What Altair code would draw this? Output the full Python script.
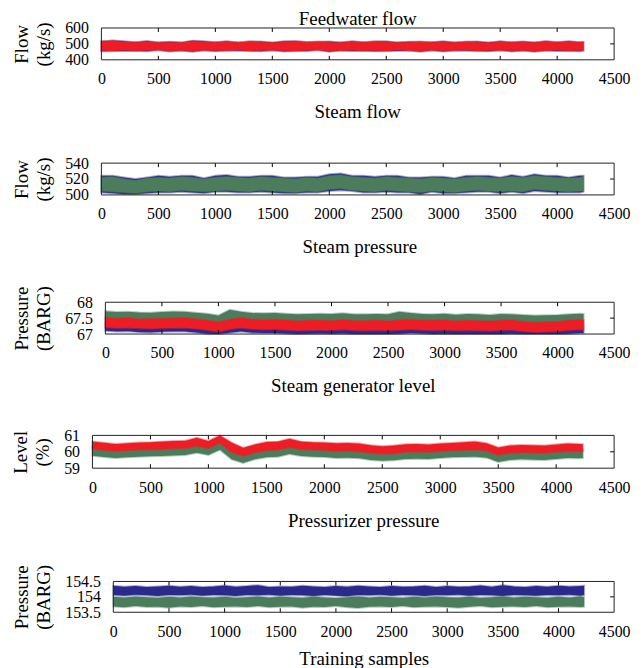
import altair as alt
import pandas as pd

FONT = "Liberation Serif"
BLUE = "#2a2a8c"
GREEN = "#4b7d5c"
RED = "#ee1d25"

# sample positions of the envelope readings (every 100 samples, last sample 4230)
samples = list(range(0, 4201, 100)) + [4230]
x_tick_values = [0, 500, 1000, 1500, 2000, 2500, 3000, 3500, 4000, 4500]
inner_ticks = [500, 1000, 1500, 2000, 2500, 3000, 3500, 4000]

# ---- Feedwater flow (kg/s) ----
fw_blue_hi = [515,522,516,510,518,509,514,508,520,516,510,517,509,515,515,508,516,516,512,514,515,509,517,510,515,516,508,514,514,510,516,509,513,515,508,516,510,515,509,517,511,516,510,512]
fw_blue_lo = [454,455,455,457,453,461,452,458,450,460,453,459,457,456,453,460,452,455,455,461,451,458,455,457,454,455,456,458,451,460,452,459,457,456,453,460,452,459,451,458,455,457,454,458]
fw_red_hi = [515,520,512,510,514,509,511,508,518,512,510,513,509,515,511,508,512,516,510,514,511,509,513,510,515,512,508,511,514,510,512,509,513,511,508,514,510,512,509,515,511,513,510,512]
fw_red_lo = [458,455,460,457,459,461,456,458,455,460,457,459,462,456,458,460,457,455,459,461,456,458,460,457,459,455,461,458,456,460,457,459,462,456,458,460,457,459,456,458,460,457,459,458]

# ---- Steam flow (kg/s) ----
sf_blue_hi = [524,524,522,520,522,524,523,524,524,521,524,525,523,523,524,524,522,522,523,523,526,527,524,524,523,524,524,522,522,523,523,521,524,524,524,522,525,523,526,524,524,522,524,524]
sf_blue_lo = [503,502,501,501,502,503,503,504,503,502,504,504,503,503,504,503,502,502,503,503,505,506,505,503,503,504,503,503,501,504,502,502,503,504,504,502,504,502,505,504,503,503,503,504]
sf_green_hi = [522,523,520,518,521,522,521,523,522,520,522,523,522,521,523,522,521,520,522,521,524,525,523,522,521,523,522,521,520,522,521,520,522,523,522,521,523,522,524,523,522,521,522,523]
sf_green_lo = [505,504,503,502,504,505,504,506,505,504,505,506,505,504,506,505,504,503,505,504,507,508,506,505,504,506,505,504,503,505,504,503,505,506,505,504,505,504,507,506,505,504,505,505]

# ---- Steam pressure (BARG) ----
sp_blue_hi = [67.32,67.30,67.31,67.29,67.28,67.29,67.30,67.31,67.28,67.24,67.18,67.26,67.31,67.27,67.25,67.26,67.24,67.22,67.23,67.24,67.23,67.25,67.23,67.22,67.23,67.22,67.24,67.26,67.24,67.23,67.24,67.22,67.23,67.22,67.21,67.23,67.24,67.20,67.17,67.18,67.20,67.23,67.25,67.24]
sp_blue_lo = [67.10,67.08,67.09,67.06,67.05,67.07,67.08,67.08,67.05,67.01,66.97,67.04,67.08,67.04,67.03,67.03,67.02,67.00,67.01,67.02,67.01,67.02,67.00,66.99,67.00,66.99,67.01,67.03,67.02,67.00,67.01,66.99,67.00,66.99,66.99,67.00,67.01,66.98,66.97,66.97,66.99,67.01,67.03,67.03]
sp_green_hi = [67.72,67.69,67.70,67.68,67.67,67.69,67.71,67.70,67.67,67.64,67.58,67.76,67.70,67.66,67.65,67.66,67.64,67.62,67.63,67.64,67.63,67.65,67.62,67.62,67.63,67.62,67.70,67.66,67.63,67.62,67.64,67.61,67.63,67.62,67.60,67.63,67.62,67.60,67.58,67.59,67.60,67.62,67.64,67.63]
sp_green_lo = [67.36,67.34,67.35,67.33,67.32,67.33,67.34,67.35,67.32,67.28,67.22,67.30,67.35,67.31,67.29,67.30,67.28,67.26,67.27,67.28,67.27,67.29,67.27,67.26,67.27,67.26,67.28,67.30,67.28,67.27,67.28,67.26,67.27,67.26,67.25,67.27,67.28,67.24,67.21,67.22,67.24,67.27,67.29,67.28]
sp_red_hi = [67.52,67.49,67.51,67.47,67.48,67.49,67.50,67.51,67.47,67.43,67.38,67.46,67.51,67.46,67.45,67.45,67.44,67.41,67.43,67.43,67.42,67.45,67.42,67.42,67.43,67.41,67.44,67.46,67.43,67.43,67.44,67.41,67.43,67.42,67.40,67.43,67.44,67.39,67.36,67.38,67.39,67.43,67.45,67.44]
sp_red_lo = [67.21,67.19,67.20,67.18,67.17,67.18,67.19,67.20,67.17,67.13,67.07,67.15,67.20,67.16,67.14,67.15,67.13,67.11,67.12,67.13,67.12,67.14,67.12,67.11,67.12,67.11,67.13,67.15,67.13,67.12,67.13,67.11,67.12,67.11,67.10,67.12,67.13,67.09,67.06,67.07,67.09,67.12,67.14,67.13]

# ---- Steam generator level (%) ----
lv_green_hi = [60.32,60.25,60.18,60.22,60.27,60.28,60.32,60.36,60.38,60.56,60.36,60.75,60.26,59.94,60.14,60.30,60.32,60.50,60.32,60.28,60.26,60.22,60.24,60.20,60.10,60.04,60.08,60.16,60.18,60.14,60.20,60.24,60.28,60.32,60.22,59.96,60.08,60.12,60.10,60.08,60.14,60.20,60.18,60.16]
lv_green_lo = [59.76,59.68,59.62,59.66,59.70,59.72,59.74,59.78,59.80,59.94,59.80,60.12,59.54,59.32,59.54,59.66,59.70,59.86,59.74,59.70,59.68,59.62,59.64,59.60,59.50,59.46,59.48,59.56,59.58,59.56,59.62,59.66,59.68,59.70,59.64,59.38,59.50,59.54,59.52,59.50,59.56,59.62,59.60,59.62]
lv_red_hi = [60.62,60.55,60.48,60.52,60.57,60.58,60.62,60.66,60.68,60.86,60.66,61.05,60.56,60.24,60.44,60.60,60.62,60.80,60.62,60.58,60.56,60.52,60.54,60.50,60.40,60.34,60.38,60.46,60.48,60.44,60.50,60.54,60.58,60.62,60.52,60.26,60.38,60.42,60.40,60.38,60.44,60.50,60.48,60.46]
lv_red_lo = [60.18,60.10,60.04,60.08,60.13,60.14,60.16,60.20,60.21,60.36,60.22,60.55,59.96,59.74,59.96,60.08,60.12,60.28,60.16,60.12,60.10,60.04,60.06,60.02,59.92,59.88,59.90,59.98,60.00,59.98,60.04,60.08,60.10,60.12,60.06,59.80,59.92,59.96,59.94,59.92,59.98,60.04,60.02,60.04]

# ---- Pressurizer pressure (BARG) ----
pp_blue_hi = [154.36,154.33,154.35,154.32,154.34,154.36,154.33,154.35,154.32,154.34,154.37,154.33,154.35,154.38,154.32,154.34,154.33,154.36,154.34,154.32,154.35,154.33,154.36,154.34,154.32,154.35,154.33,154.34,154.36,154.32,154.35,154.33,154.34,154.37,154.33,154.38,154.34,154.32,154.35,154.33,154.36,154.34,154.35,154.36]
pp_blue_lo = [154.06,154.04,154.07,154.05,154.03,154.06,154.05,154.07,154.04,154.06,154.05,154.03,154.06,154.05,154.07,154.04,154.06,154.05,154.03,154.06,154.04,154.02,154.06,154.05,154.07,154.04,154.06,154.05,154.03,154.06,154.05,154.07,154.04,154.06,154.05,154.03,154.06,154.05,154.04,154.06,154.05,154.07,154.04,154.06]
pp_green_hi = [154.00,153.98,154.01,153.99,153.97,154.00,153.98,154.01,153.99,153.98,154.00,153.97,153.99,154.01,153.98,154.00,153.99,153.97,154.00,153.98,153.96,153.99,154.01,153.98,154.00,153.99,153.97,154.00,153.98,154.01,153.99,153.98,154.00,153.97,153.99,154.01,153.98,154.00,153.99,153.97,154.00,153.98,154.01,153.99]
pp_green_lo = [153.69,153.66,153.70,153.67,153.68,153.65,153.69,153.67,153.70,153.66,153.68,153.69,153.67,153.70,153.66,153.68,153.69,153.65,153.68,153.67,153.70,153.66,153.64,153.68,153.69,153.67,153.70,153.66,153.68,153.69,153.67,153.65,153.68,153.70,153.66,153.68,153.69,153.67,153.70,153.66,153.68,153.69,153.67,153.68]

W = 504  # common right edge of every panel (relative to shared origin)


def panel(title, title_offset, ytitle, ydom, yvals, series, left, height, xtitle=None):
    # left: pixel position of this panel's left frame edge relative to the shared origin
    xs = alt.Scale(domain=[0, 4500], range=[left, W], nice=False, zero=False)
    ys = alt.Scale(domain=ydom, nice=False, zero=False, clamp=True)
    xaxis = alt.Axis(values=x_tick_values, labelExpr="'' + datum.value", labelFlush=False,
                     labelOverlap=False, grid=False, domain=False, ticks=False, tickSize=0,
                     labelPadding=11, labelFont=FONT, labelFontSize=16, labelColor="black",
                     title=xtitle, titleFont=FONT, titleFontSize=19, titleFontWeight="normal",
                     titleColor="black", titlePadding=11)
    yaxis = alt.Axis(values=yvals, labelExpr="'' + datum.value", labelFlush=False,
                     labelOverlap=False, grid=False, domain=False, ticks=False, tickSize=0,
                     offset=-left, labelPadding=13, labelFont=FONT, labelFontSize=16,
                     labelColor="black", title=ytitle, titleFont=FONT, titleFontSize=19,
                     titleFontWeight="normal", titleColor="black", titlePadding=11,
                     titleLineHeight=22)
    layers = []
    for lo, hi, color in series:
        df = pd.DataFrame({"x": samples, "lo": lo, "hi": hi})
        layers.append(
            alt.Chart(df).mark_area(color=color, opacity=1, stroke=color, strokeWidth=2,
                                    strokeOpacity=0.4).encode(
                x=alt.X("x:Q", scale=xs, axis=xaxis),
                y=alt.Y("lo:Q", scale=ys, axis=yaxis),
                y2="hi:Q",
            )
        )
    tick_df = pd.DataFrame({"x": inner_ticks})
    top = alt.Chart(tick_df).mark_rule(color="black", strokeWidth=1).encode(
        x=alt.X("x:Q", scale=xs, axis=xaxis), y=alt.value(0), y2=alt.value(4))
    bottom = alt.Chart(tick_df).mark_rule(color="black", strokeWidth=1).encode(
        x=alt.X("x:Q", scale=xs, axis=xaxis), y=alt.value(height - 4), y2=alt.value(height))
    mid_df = pd.DataFrame({"lo": [yvals[1]]})
    right = alt.Chart(mid_df).mark_rule(color="black", strokeWidth=1).encode(
        y=alt.Y("lo:Q", scale=ys, axis=yaxis), x=alt.value(W - 4), x2=alt.value(W))
    frame = alt.Chart(pd.DataFrame({"k": [0]})).mark_rect(
        fillOpacity=0, stroke="#222222", strokeWidth=1).encode(
        x=alt.value(left), x2=alt.value(W), y=alt.value(0), y2=alt.value(height))
    return alt.layer(*layers, top, bottom, right, frame).properties(
        width=W, height=height,
        title=alt.TitleParams(title, font=FONT, fontSize=19, fontWeight="normal", color="black",
                              offset=title_offset, frame="group", baseline="alphabetic",
                              dx=left / 2),
    )


p1 = panel("Feedwater flow", -24, ["Flow", "(kg/s)"], [400, 600], [400, 500, 600],
           [(fw_blue_lo, fw_blue_hi, BLUE), (fw_red_lo, fw_red_hi, RED)], -12, 32)
p2 = panel("Steam flow", 18.5, ["Flow", "(kg/s)"], [500, 540], [500, 520, 540],
           [(sf_blue_lo, sf_blue_hi, BLUE), (sf_green_lo, sf_green_hi, GREEN)], -12, 32)
p3 = panel("Steam pressure", 14, ["Pressure", "(BARG)"], [67, 68], [67, 67.5, 68],
           [(sp_blue_lo, sp_blue_hi, BLUE), (sp_green_lo, sp_green_hi, GREEN),
            (sp_red_lo, sp_red_hi, RED)], -8, 32)
p4 = panel("Steam generator level", 16.5, ["Level", "(%)"], [59, 61], [59, 60, 61],
           [(lv_green_lo, lv_green_hi, GREEN), (lv_red_lo, lv_red_hi, RED)], -21, 33)
p5 = panel("Pressurizer pressure", 19, ["Pressure", "(BARG)"], [153.5, 154.5], [153.5, 154, 154.5],
           [(pp_blue_lo, pp_blue_hi, BLUE), (pp_green_lo, pp_green_hi, GREEN)], 0, 31,
           xtitle="Training samples")

chart = alt.vconcat(p1, p2, p3, p4, p5, spacing=16).properties(
    padding={"top": 0, "left": 4, "right": 0, "bottom": 0}
).configure_view(stroke="transparent", strokeWidth=0)

chart.save("out.html", embed_options={"renderer": "svg", "actions": False})
